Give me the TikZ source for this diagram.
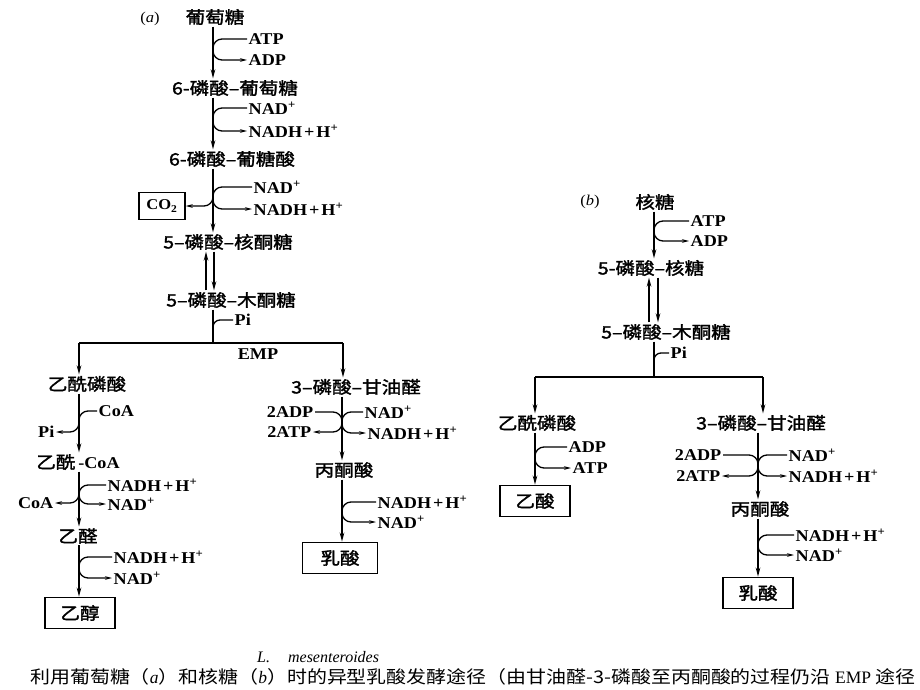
\documentclass[tikz,border=0pt]{standalone}
\usepackage{fontspec}
\setmainfont{Liberation Serif}[FakeStretch=1.1]
\newfontfamily\capit{Liberation Serif}
\newfontfamily\cjkb{Noto Sans CJK SC}[FakeBold=1.8, FakeStretch=1.15]
\newfontfamily\cjk{Noto Sans CJK SC}[FakeStretch=1.14]
\usetikzlibrary{arrows.meta,calc}
\tikzset{
  cn/.style={font=\cjkb\fontsize{17}{19}\selectfont, inner sep=1.5pt},
  lb/.style={font=\normalfont\bfseries\fontsize{16.5}{18}\selectfont, inner sep=1.5pt},
  lbw/.style={lb, anchor=west},
  lbe/.style={lb, anchor=east},
  mainln/.style={line width=1.6pt},
  mainarr/.style={line width=1.6pt, -{Stealth[length=9pt,width=4.5pt]}},
  side/.style={line width=1.3pt, rounded corners=9pt},
  sidearr/.style={side, -{Stealth[length=7pt,width=3.6pt]}},
  prodbox/.style={draw, line width=1.6pt, minimum width=70pt, minimum height=31pt, inner sep=2pt, font=\cjkb\fontsize{17}{19}\selectfont},
}
\newcommand{\pls}{\hspace{2pt}+\hspace{2pt}}
\begin{document}
\begin{tikzpicture}[x=1pt,y=-1pt]
\useasboundingbox (0,0) rectangle (920,690);
% main axis coordinates
\coordinate (m1) at (213,0);
\coordinate (da1) at (206,0);
\coordinate (da2) at (214,0);
\coordinate (m2) at (79,0);
\coordinate (m3) at (342,0);
\coordinate (n1) at (654,0);
\coordinate (db1) at (649,0);
\coordinate (db2) at (658,0);
\coordinate (n2) at (535,0);
\coordinate (n3) at (758,0);
\coordinate (bl) at (79,343);
\coordinate (bm) at (213,343);
\coordinate (br) at (343,343);
\coordinate (cl) at (535,377);
\coordinate (cm) at (654,377);
\coordinate (cr) at (763,377);

% ================= (a) =================
\node[lb, font=\normalfont\fontsize{15}{17}\selectfont] (alab) at (150,19) {(\textit{a})};
\node[cn] (glc) at (215,17) {葡萄糖};
\node[lbw] (atp1) at (247,39) {ATP};
\node[lbw] (adp1) at (247,60) {ADP};
\node[cn] (g6p) at (235,88) {6-磷酸–葡萄糖};
\node[lbw] (nad1) at (247,108) {NAD\textsuperscript{+}};
\node[lbw] (nadh1) at (247,131) {NADH\pls H\textsuperscript{+}};
\node[cn] (gcn) at (232,159) {6-磷酸–葡糖酸};
\node[lbw] (nad2) at (252,187) {NAD\textsuperscript{+}};
\node[lbw] (nadh2) at (252,209) {NADH\pls H\textsuperscript{+}};
\node[draw, line width=1.5pt, minimum width=46pt, minimum height=27pt, inner sep=1pt, font=\bfseries\fontsize{15}{16}\selectfont] (co2) at (162,206) {CO\textsubscript{2}};
\node[cn] (ru5p) at (228,242) {5–磷酸–核酮糖};
\node[cn] (xu5p) at (231,300) {5–磷酸–木酮糖};
\node[lbw] (pia) at (233,320) {Pi};
\node[lb] (emp) at (258,354) {EMP};

\draw[mainarr] (glc.south -| m1) -- (g6p.north -| m1);
\draw[sidearr] (atp1.west) -- (atp1.west -| m1) -- (adp1.west -| m1) -- (adp1.west);
\draw[mainarr] (g6p.south -| m1) -- (gcn.north -| m1);
\draw[sidearr] (nad1.west) -- (nad1.west -| m1) -- (nadh1.west -| m1) -- (nadh1.west);
\draw[mainarr] (gcn.south -| m1) -- (ru5p.north -| m1);
\draw[sidearr] (nad2.west) -- (nad2.west -| m1) -- (nadh2.west -| m1) -- (nadh2.west);
\draw[sidearr] ($(co2.east -| m1)+(0,-14)$) -- (co2.east -| m1) -- (co2.east);
\draw[mainarr] (xu5p.north -| da1) -- (ru5p.south -| da1);
\draw[mainarr] (ru5p.south -| da2) -- (xu5p.north -| da2);
\draw[mainln] (xu5p.south -| m1) -- (bm);
\draw[side, rounded corners=7pt] (pia.west) -- (pia.west -| m1) -- ++(0,12);
\draw[mainln] (bl) -- (br);

% left branch (a)
\node[cn] (acp) at (87,384) {乙酰磷酸};
\node[lbw] (coa1) at (97,411) {CoA};
\node[lbe] (pi1) at (56,432) {Pi};
\node[cn] (acoa) at (78,462) {乙酰\,{\normalfont\bfseries\fontsize{16.5}{18}\selectfont -CoA}};
\node[lbw] (nadh3) at (106,485) {NADH\pls H\textsuperscript{+}};
\node[lbw] (nad3) at (106,504) {NAD\textsuperscript{+}};
\node[lbe] (coa2) at (55,503) {CoA};
\node[cn] (ald) at (78,536) {乙醛};
\node[lbw] (nadh4) at (112,557) {NADH\pls H\textsuperscript{+}};
\node[lbw] (nad4) at (112,578) {NAD\textsuperscript{+}};
\node[prodbox] (etoh) at (80,613) {乙醇};

\draw[mainarr] (bl) -- (acp.north -| m2);
\draw[mainarr] (acp.south -| m2) -- (acoa.north -| m2);
\draw[sidearr] (coa1.west) -- (coa1.west -| m2) -- (pi1.east -| m2) -- (pi1.east);
\draw[mainarr] (acoa.south -| m2) -- (ald.north -| m2);
\draw[sidearr] (nadh3.west) -- (nadh3.west -| m2) -- (nad3.west -| m2) -- (nad3.west);
\draw[sidearr] ($(coa2.east -| m2)+(0,-14)$) -- (coa2.east -| m2) -- (coa2.east);
\draw[mainarr] (ald.south -| m2) -- (etoh.north -| m2);
\draw[sidearr] (nadh4.west) -- (nadh4.west -| m2) -- (nad4.west -| m2) -- (nad4.west);

% right branch (a)
\node[cn] (gap) at (356,387) {3–磷酸–甘油醛};
\node[lbe] (adp2) at (315,412) {2ADP};
\node[lbe] (atp2) at (313,432) {2ATP};
\node[lbw] (nad5) at (363,412) {NAD\textsuperscript{+}};
\node[lbw] (nadh5) at (366,433) {NADH\pls H\textsuperscript{+}};
\node[cn] (pyr) at (344,470) {丙酮酸};
\node[lbw] (nadh6) at (376,502) {NADH\pls H\textsuperscript{+}};
\node[lbw] (nad6) at (376,522) {NAD\textsuperscript{+}};
\node[prodbox, minimum width=75pt] (lac) at (340,558) {乳酸};

\draw[mainarr] (br) -- (gap.north -| br);
\draw[mainarr] (gap.south -| m3) -- (pyr.north -| m3);
\draw[sidearr] (adp2.east) -- (adp2.east -| m3) -- (atp2.east -| m3) -- (atp2.east);
\draw[sidearr] (nad5.west) -- (nad5.west -| m3) -- (nadh5.west -| m3) -- (nadh5.west);
\draw[mainarr] (pyr.south -| m3) -- (lac.north -| m3);
\draw[sidearr] (nadh6.west) -- (nadh6.west -| m3) -- (nad6.west -| m3) -- (nad6.west);

% ================= (b) =================
\node[lb, font=\normalfont\fontsize{15}{17}\selectfont] (blab) at (590,202) {(\textit{b})};
\node[cn] (rib) at (655,202) {核糖};
\node[lbw] (atp3) at (689,221) {ATP};
\node[lbw] (adp3) at (689,241) {ADP};
\node[cn] (r5p) at (651,268) {5-磷酸–核糖};
\node[cn] (xu5pb) at (666,332) {5–磷酸–木酮糖};
\node[lbw] (pib) at (669,353) {Pi};

\draw[mainarr] (rib.south -| n1) -- (r5p.north -| n1);
\draw[sidearr] (atp3.west) -- (atp3.west -| n1) -- (adp3.west -| n1) -- (adp3.west);
\draw[mainarr] (xu5pb.north -| db1) -- (r5p.south -| db1);
\draw[mainarr] (r5p.south -| db2) -- (xu5pb.north -| db2);
\draw[mainln] (xu5pb.south -| n1) -- (cm);
\draw[side, rounded corners=7pt] (pib.west) -- (pib.west -| n1) -- ++(0,12);
\draw[mainln] (cl) -- (cr);

% left branch (b)
\node[cn] (acpb) at (537,423) {乙酰磷酸};
\node[lbw] (adp4) at (567,447) {ADP};
\node[lbw] (atp4) at (571,468) {ATP};
\node[prodbox] (ace) at (535,501) {乙酸};

\draw[mainarr] (cl) -- (acpb.north -| n2);
\draw[mainarr] (acpb.south -| n2) -- (ace.north -| n2);
\draw[sidearr] (adp4.west) -- (adp4.west -| n2) -- (atp4.west -| n2) -- (atp4.west);

% right branch (b)
\node[cn] (gapb) at (761,423) {3–磷酸–甘油醛};
\node[lbe] (adp5) at (723,455) {2ADP};
\node[lbe] (atp5) at (722,476) {2ATP};
\node[lbw] (nad7) at (787,455) {NAD\textsuperscript{+}};
\node[lbw] (nadh7) at (787,476) {NADH\pls H\textsuperscript{+}};
\node[cn] (pyrb) at (760,509) {丙酮酸};
\node[lbw] (nadh8) at (794,535) {NADH\pls H\textsuperscript{+}};
\node[lbw] (nad8) at (794,555) {NAD\textsuperscript{+}};
\node[prodbox] (lacb) at (758,593) {乳酸};

\draw[mainarr] (cr) -- (gapb.north -| cr);
\draw[mainarr] (gapb.south -| n3) -- (pyrb.north -| n3);
\draw[sidearr] (adp5.east) -- (adp5.east -| n3) -- (atp5.east -| n3) -- (atp5.east);
\draw[sidearr] (nad7.west) -- (nad7.west -| n3) -- (nadh7.west -| n3) -- (nadh7.west);
\draw[mainarr] (pyrb.south -| n3) -- (lacb.north -| n3);
\draw[sidearr] (nadh8.west) -- (nadh8.west -| n3) -- (nad8.west -| n3) -- (nad8.west);

% caption
\node[anchor=west, inner sep=0, font=\capit\fontsize{16}{18}\selectfont] (cap1) at (257,657) {\textit{L.}\hspace{18pt}\textit{mesenteroides}};
\node[anchor=west, inner sep=0, font=\cjk\fontsize{17.5}{19}\selectfont] (cap2) at (30,677) {利用葡萄糖（{\capit\itshape a}）和核糖（{\capit\itshape b}）时的异型乳酸发酵途径（由甘油醛-3-磷酸至丙酮酸的过程仍沿 {\capit EMP} 途径};
\end{tikzpicture}
\end{document}
